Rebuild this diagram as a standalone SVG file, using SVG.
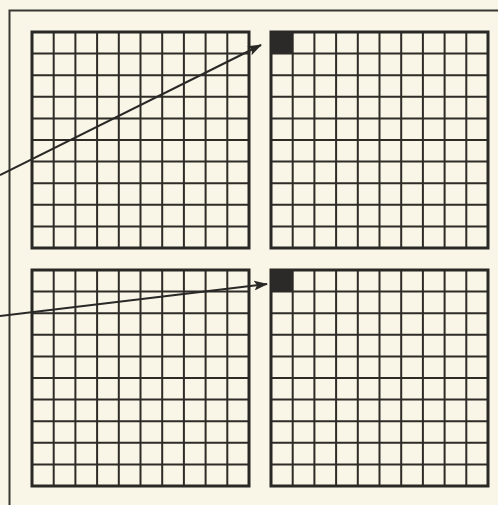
<svg xmlns="http://www.w3.org/2000/svg" xmlns:xlink="http://www.w3.org/1999/xlink" width="498" height="505" viewBox="0 0 498 505">
<style>
.bg{fill:#f9f5e7}
.frame{fill:none;stroke:#3a3833;stroke-width:2}
.inner{fill:none;stroke:#2f2c28;stroke-width:2}
.outer{fill:none;stroke:#2a2824;stroke-width:3}
.fillc{fill:#2c2a28}
.arrow{fill:none;stroke:#2a2826;stroke-width:2}
</style>
<defs>
<g id="gridtpl">
<path class="inner" d="M21.7 0V216M43.4 0V216M65.1 0V216M86.8 0V216M108.5 0V216M130.2 0V216M151.9 0V216M173.6 0V216M195.3 0V216M0 21.6H217M0 43.2H217M0 64.8H217M0 86.4H217M0 108H217M0 129.6H217M0 151.2H217M0 172.8H217M0 194.4H217"/>
<rect class="outer" x="0" y="0" width="217" height="216"/>
</g>
<marker id="ah" markerWidth="14" markerHeight="10" refX="13" refY="5" orient="auto" markerUnits="userSpaceOnUse">
<path d="M0 0L14 5L0 10L3 5Z" fill="#2a2826"/>
</marker>
</defs>
<rect class="bg" x="0" y="0" width="498" height="505"/>
<path class="frame" d="M9.5 505V10.5H498"/>
<g id="grid-top-left"><use xlink:href="#gridtpl" transform="translate(32,32)"/></g>
<g id="grid-top-right"><use xlink:href="#gridtpl" transform="translate(271,32)"/><rect class="fillc" x="271" y="32" width="21.7" height="21.6"/></g>
<g id="grid-bottom-left"><use xlink:href="#gridtpl" transform="translate(32,270)"/></g>
<g id="grid-bottom-right"><use xlink:href="#gridtpl" transform="translate(271,270)"/><rect class="fillc" x="271" y="270" width="21.7" height="21.6"/></g>
<g id="connectors">
<line class="arrow" x1="0" y1="175" x2="261" y2="45" marker-end="url(#ah)"/>
<line class="arrow" x1="0" y1="316" x2="267" y2="284" marker-end="url(#ah)"/>
</g>
</svg>
